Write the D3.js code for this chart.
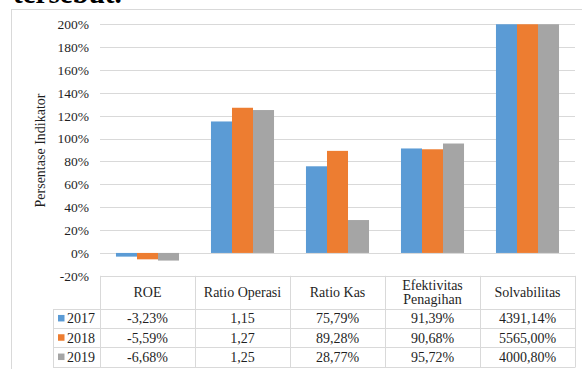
<!DOCTYPE html>
<html>
<head>
<meta charset="utf-8">
<script src="https://cdn.jsdelivr.net/npm/d3@7"></script>
<style>
  html, body { margin: 0; padding: 0; background: #fff; }
  svg { display: block; }
  svg text { font-family: "Liberation Serif", "Times New Roman", serif !important; }
</style>
</head>
<body>
<svg id="chart" width="582" height="369"></svg>
<script>
// Indicator categories and yearly values (in percent; ratios converted to %)
const categories = ["ROE", "Ratio Operasi", "Ratio Kas", "Efektivitas Penagihan", "Solvabilitas"];
const headerLines = [["ROE"], ["Ratio Operasi"], ["Ratio Kas"], ["Efektivitas", "Penagihan"], ["Solvabilitas"]];
const years = ["2017", "2018", "2019"];
const values2017 = [-3.23, 115, 75.79, 91.39, 4391.14];
const values2018 = [-5.59, 127, 89.28, 90.68, 5565.00];
const values2019 = [-6.68, 125, 28.77, 95.72, 4000.80];
const labels2017 = ["-3,23%", "1,15", "75,79%", "91,39%", "4391,14%"];
const labels2018 = ["-5,59%", "1,27", "89,28%", "90,68%", "5565,00%"];
const labels2019 = ["-6,68%", "1,25", "28,77%", "95,72%", "4000,80%"];
const yTicks = [-20, 0, 20, 40, 60, 80, 100, 120, 140, 160, 180, 200];
const colors = ["#5B9BD5", "#ED7D31", "#A5A5A5"];

const seriesValues = [values2017, values2018, values2019];
const seriesLabels = [labels2017, labels2018, labels2019];

const svg = d3.select("#chart");
const serif = "'Liberation Serif', 'Times New Roman', serif";
const textColor = "#1f1f1f";
const lineColor = "#d9d9d9";
const fs = 14;

// Layout
const plotLeft = 100, plotRight = 575;
const plotTop = 24.3, plotBottom = 275.8;
const headerH = 33, rowH = 19.3;
const legendLeft = 53;

// Lead-in sentence fragment above the chart
svg.append("text")
  .attr("x", 13).attr("y", 3)
  .attr("font-family", serif)
  .attr("font-size", 29).attr("font-weight", "bold")
  .attr("fill", "#000")
  .text("tersebut.");

// Chart frame
svg.append("rect")
  .attr("x", 11.5).attr("y", 9.5)
  .attr("width", 600).attr("height", 400)
  .attr("fill", "none").attr("stroke", lineColor);

// Scales
const y = d3.scaleLinear().domain([-20, 200]).range([plotBottom, plotTop]);
const x0 = d3.scaleBand().domain(categories).range([plotLeft, plotRight]).padding(0);
const x1 = d3.scaleBand().domain(years).range([0, x0.bandwidth()]).paddingInner(0).paddingOuter(0.76);

// Gridlines (0% .. 200%)
svg.append("g").selectAll("line")
  .data(yTicks.filter(t => t >= 0))
  .join("line")
  .attr("x1", plotLeft).attr("x2", plotRight)
  .attr("y1", d => Math.round(y(d)) + 0.5).attr("y2", d => Math.round(y(d)) + 0.5)
  .attr("stroke", lineColor).attr("stroke-width", 1);

// Y axis tick labels
const yAxis = d3.axisLeft(y).tickValues(yTicks).tickFormat(d => d + "%").tickSize(0).tickPadding(0);
const gy = svg.append("g").attr("transform", "translate(89,0)").call(yAxis)
  .attr("font-family", serif).attr("font-size", 13.5);
gy.select(".domain").remove();
gy.selectAll("text").attr("fill", textColor);

// Axis title
svg.append("text")
  .attr("transform", "translate(45,150.5) rotate(-90)")
  .attr("text-anchor", "middle")
  .attr("font-family", serif)
  .attr("font-size", 14).attr("fill", textColor)
  .text("Persentase Indikator");

// Bars, clipped to the plot area
svg.append("clipPath").attr("id", "plotClip")
  .append("rect")
  .attr("x", plotLeft).attr("y", plotTop)
  .attr("width", plotRight - plotLeft).attr("height", plotBottom - plotTop);

const barData = [];
categories.forEach((c, i) => {
  years.forEach((yr, j) => barData.push({ cat: c, year: yr, value: seriesValues[j][i], color: colors[j] }));
});

svg.append("g").attr("clip-path", "url(#plotClip)")
  .selectAll("rect")
  .data(barData)
  .join("rect")
  .attr("x", d => x0(d.cat) + x1(d.year))
  .attr("width", x1.bandwidth())
  .attr("y", d => Math.min(y(d.value), y(0)))
  .attr("height", d => Math.abs(y(d.value) - y(0)))
  .attr("fill", d => d.color);

// Data table
const tableTop = plotBottom;
const headerBottom = tableTop + headerH;
const tableBottom = headerBottom + rowH * years.length;
const table = svg.append("g").attr("font-family", serif).attr("font-size", fs);

// Horizontal rules
table.append("line")
  .attr("x1", plotLeft).attr("x2", plotRight)
  .attr("y1", Math.round(tableTop) + 0.5).attr("y2", Math.round(tableTop) + 0.5)
  .attr("stroke", lineColor);
d3.range(years.length + 1).forEach(k => {
  const yy = Math.round(headerBottom + k * rowH) + 0.5;
  table.append("line")
    .attr("x1", legendLeft).attr("x2", plotRight)
    .attr("y1", yy).attr("y2", yy)
    .attr("stroke", lineColor);
});
// Vertical rules
categories.concat([null]).forEach((c, i) => {
  const xx = Math.round(plotLeft + i * x0.bandwidth()) + 0.5;
  table.append("line")
    .attr("x1", xx).attr("x2", xx)
    .attr("y1", tableTop).attr("y2", Math.round(tableBottom) + 0.5)
    .attr("stroke", lineColor);
});
table.append("line")
  .attr("x1", legendLeft + 0.5).attr("x2", legendLeft + 0.5)
  .attr("y1", Math.round(headerBottom) + 0.5).attr("y2", Math.round(tableBottom) + 0.5)
  .attr("stroke", lineColor);

// Header labels
categories.forEach((c, i) => {
  const cx = x0(c) + x0.bandwidth() / 2;
  const lines = headerLines[i];
  const midY = tableTop + headerH / 2;
  lines.forEach((ln, k) => {
    table.append("text")
      .attr("x", cx)
      .attr("y", midY + 4.5 + (k - (lines.length - 1) / 2) * 14.5)
      .attr("text-anchor", "middle")
      .attr("fill", textColor)
      .text(ln);
  });
});

// Rows: legend key + values
years.forEach((yr, j) => {
  const rowMid = headerBottom + rowH * j + rowH / 2;
  table.append("rect")
    .attr("x", 58).attr("y", rowMid - 3.5)
    .attr("width", 6.5).attr("height", 6.5)
    .attr("fill", colors[j]);
  table.append("text")
    .attr("x", 67).attr("y", rowMid + 5)
    .attr("fill", textColor)
    .text(yr);
  categories.forEach((c, i) => {
    table.append("text")
      .attr("x", x0(c) + x0.bandwidth() / 2)
      .attr("y", rowMid + 5)
      .attr("text-anchor", "middle")
      .attr("fill", textColor)
      .text(seriesLabels[j][i]);
  });
});
</script>
</body>
</html>
